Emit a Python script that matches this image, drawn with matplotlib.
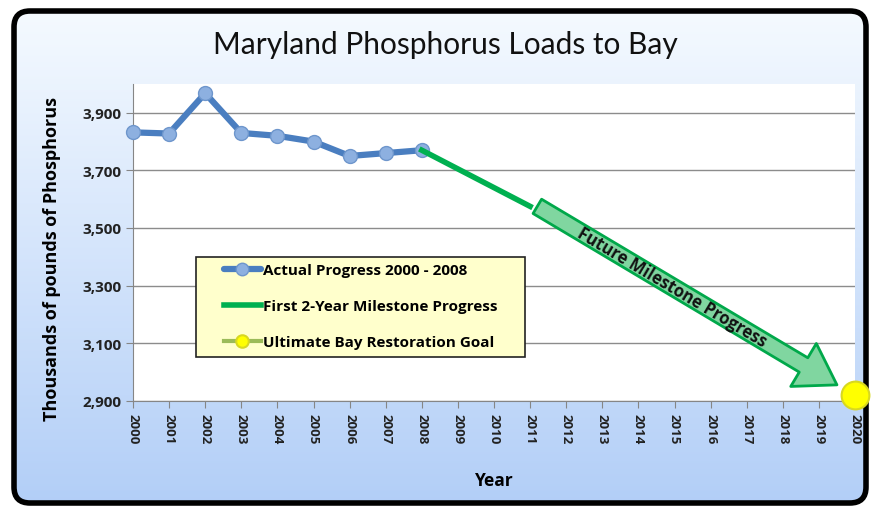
import numpy as np
import matplotlib
matplotlib.use("Agg")
import matplotlib.pyplot as plt
from matplotlib.patches import FancyBboxPatch, Rectangle

plt.rcParams['font.family'] = ['Open Sans', 'DejaVu Sans']

# data
years = list(range(2000, 2021))
actual_years = [2000, 2001, 2002, 2003, 2004, 2005, 2006, 2007, 2008]
actual_vals = [3832, 3828, 3968, 3830, 3820, 3800, 3750, 3760, 3770]
milestone_years = [2008, 2011]
milestone_vals = [3770, 3575]
goal_year = 2020
goal_val = 2920
yticks = [2900, 3100, 3300, 3500, 3700, 3900]

W, H = 872, 510
fig = plt.figure(figsize=(W / 100, H / 100), dpi=100)

# background frame with gradient
bg = fig.add_axes([0, 0, 1, 1])
bg.set_xlim(0, W)
bg.set_ylim(H, 0)
bg.axis('off')
grad = np.linspace(0, 1, 256).reshape(-1, 1)
top = np.array([0.96, 0.98, 1.0])
bot = np.array([0.70, 0.81, 0.97])
img = top + (bot - top) * grad[:, :, None]
frame = FancyBboxPatch((14, 12), 852, 492, boxstyle="round,pad=0,rounding_size=16",
                       fc='none', ec='black', lw=4, zorder=3)
bg.add_patch(frame)
im = bg.imshow(img, extent=(14, 866, 504, 12), aspect='auto', zorder=1)
im.set_clip_path(frame)

fig.text(445 / W, 1 - 45 / H, "Maryland Phosphorus Loads to Bay", ha='center', va='center',
         fontsize=21.5, color='#111111', family=['Lato', 'DejaVu Sans'])

ax = fig.add_axes([133 / W, (H - 401.7) / H, (855 - 133) / W, (401.7 - 85) / H])
ax.set_facecolor('white')
ax.set_xlim(2000, 2020)
ax.set_ylim(2900, 4000)

ax.plot(actual_years, actual_vals, color='#4A7EC0', lw=4.5, marker='o', ms=10,
        mfc='#8DB0E0', mec='#6E96CC', mew=1, label='Actual Progress 2000 - 2008', zorder=5,
        clip_on=False, solid_capstyle='round')
ax.plot(milestone_years, milestone_vals, color='#00B050', lw=4,
        label='First 2-Year Milestone Progress', zorder=5)
ax.plot([goal_year], [goal_val], color='#9BBB59', lw=3, marker='o', ms=20,
        mfc='#FFFF00', mec='#D8D820', mew=1.5, label='Ultimate Bay Restoration Goal',
        zorder=6, clip_on=False)

# future milestone arrow
start = (milestone_years[-1] + 0.2, milestone_vals[-1])
end = (goal_year - 0.5, goal_val + 35)
ax.annotate("", xy=end, xytext=start,
            arrowprops=dict(arrowstyle="simple,head_length=2.8,head_width=3.6,tail_width=1.2",
                            mutation_scale=10, fc='#80D6A0', ec='#00A84A', lw=2,
                            shrinkA=0, shrinkB=0), zorder=4)
p0 = ax.transData.transform(start)
p1 = ax.transData.transform(end)
ang = np.degrees(np.arctan2(p1[1] - p0[1], p1[0] - p0[0]))
tx = start[0] + 0.45 * (end[0] - start[0])
ty = start[1] + 0.45 * (end[1] - start[1])
ax.text(tx, ty, "Future Milestone Progress", rotation=ang, rotation_mode='anchor',
        ha='center', va='center', fontsize=12, fontweight='bold', color='#111111', zorder=7)

ax.set_xticks(years)
ax.set_xticklabels([str(y) for y in years], rotation=270, fontsize=9.5, fontweight='bold')
ax.set_yticks(yticks)
ax.set_yticklabels([f"{v:,}" for v in yticks], fontsize=11, fontweight='bold')
ax.tick_params(axis='both', direction='out', length=5, color='#868686', colors='#222222')
ax.tick_params(axis='x', pad=4)
ax.tick_params(axis='y', pad=3)
ax.grid(axis='y', color='#8C8C8C', lw=1)
ax.set_axisbelow(True)
for s in ['top', 'right']:
    ax.spines[s].set_visible(False)
for s in ['left', 'bottom']:
    ax.spines[s].set_color('#868686')

ax.set_xlabel("Year", fontsize=12.5, fontweight='bold', labelpad=20)
ax.set_ylabel("Thousands of pounds of Phosphorus", fontsize=13, fontweight='bold')
ax.yaxis.set_label_coords(-0.1, 0.45)

# legend box
box = Rectangle((196 / W, 1 - 358 / H), 329 / W, 100 / H, transform=fig.transFigure,
                fc='#FFFFCC', ec='#222222', lw=1.2, zorder=4)
fig.add_artist(box)
handles, labels = ax.get_legend_handles_labels()
leg = fig.legend(handles, labels, loc='upper left', bbox_to_anchor=(224 / W, 1 - 264 / H),
                 frameon=False, borderaxespad=0, borderpad=0,
                 prop={'weight': 'bold', 'size': 11}, handlelength=2.4, handletextpad=0.15,
                 labelspacing=1.45)
leg.set_zorder(6)
for h in leg.legend_handles:
    h.set_markersize(9)

fig.savefig("out.png", dpi=100)
